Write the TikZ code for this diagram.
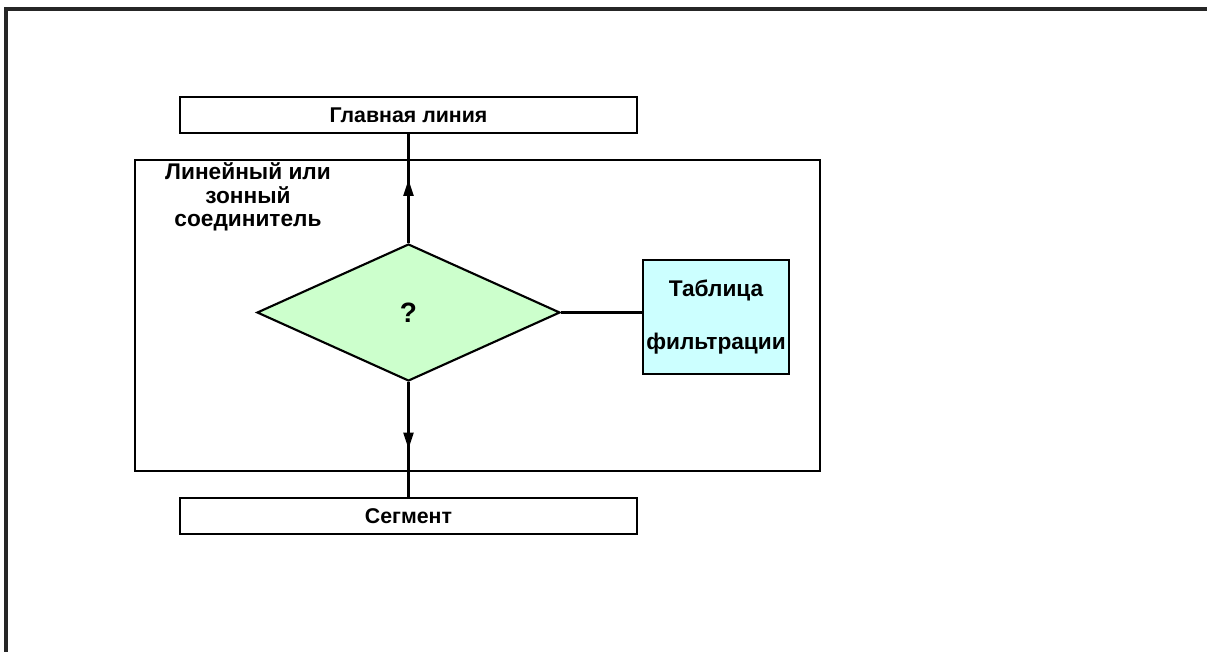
\documentclass[tikz,border=0pt]{standalone}
\usepackage{fontspec}
\setmainfont{Liberation Sans}
\usetikzlibrary{shapes.geometric,arrows.meta,decorations.markings}
\definecolor{decisiongreen}{HTML}{CCFFCC}
\definecolor{tablecyan}{HTML}{CCFFFF}
\tikzset{
  px/.style={x=0.75pt,y=-0.75pt},
  bodyline/.style={line width=1.6pt},
  linebox/.style={draw,bodyline,minimum width=342.75pt,minimum height=27pt,inner sep=0pt,font=\bfseries\fontsize{16}{18}\selectfont},
  midarrow/.style={postaction={decorate},decoration={markings,
    mark=at position #1 with {\arrow{Triangle[width=7.5pt,length=12pt]}}}},
  boldtext/.style={font=\bfseries\fontsize{17}{17.6}\selectfont,align=center,inner sep=0pt}
}
\begin{document}
\begin{tikzpicture}[px]
\useasboundingbox (0,0) rectangle (1207,651);
% page frame, open to the right and bottom
\draw[line width=2.8pt,black!85] (6,660) -- (6,9) -- (1215,9);

% connector body
\draw[bodyline] (135,160) rectangle (820,471);

% lines above and below
\node[linebox] (main) at (408.5,115) {Главная линия};
\node[linebox] (seg) at (408.5,516) {Сегмент};

% decision and filtering table
\node[diamond,draw,bodyline,fill=decisiongreen,minimum width=227.25pt,minimum height=102.75pt,inner sep=0pt,
      font=\bfseries\fontsize{21}{23}\selectfont] (q) at (408.5,312.5) {?};
\node[draw,bodyline,fill=tablecyan,minimum width=109.5pt,minimum height=85.5pt,inner sep=0pt,
      font=\bfseries\fontsize{17}{40}\selectfont,align=center] (tab) at (716,317) {Таблица\\фильтрации};

\node[boldtext] (lbl) at (248,197) {Линейный или\\зонный\\соединитель};

% connectors
\draw[bodyline,midarrow=0.58] (q.north) -- (main.south);
\draw[bodyline,midarrow=0.58] (q.south) -- (seg.north);
\draw[bodyline] (q.east) -- (q.east -| tab.west);
\end{tikzpicture}
\end{document}
